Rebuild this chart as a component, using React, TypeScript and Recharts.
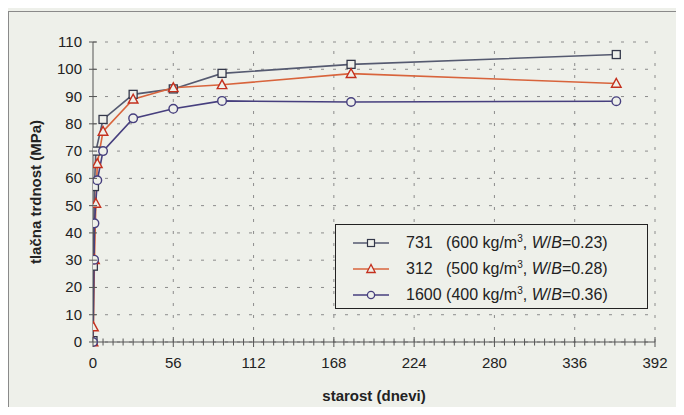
import React from 'react';
import { LineChart, Line, XAxis, YAxis, CartesianGrid, ReferenceLine, Legend } from 'recharts';

// ---- data ----
const sqDays = [0, 0.25, 1, 2, 7, 28, 56, 90, 180, 365];
const sqVals = [0.5, 27.8, 57, 70, 81.6, 90.8, 92.8, 98.5, 101.8, 105.4];

const triDays = [0, 0.3, 1, 2, 3, 7, 28, 56, 90, 180, 365];
const triVals = [0, 5.5, 30.2, 50.8, 65.4, 77.2, 89, 93.2, 94.3, 98.4, 94.8];

const cirDays = [0, 0.75, 1, 3, 7, 28, 56, 90, 180, 365];
const cirVals = [0, 30.2, 43.5, 59.3, 70, 82, 85.5, 88.4, 88, 88.3];

const xMajorTicks = [0, 56, 112, 168, 224, 280, 336, 392];
const yTicks = [0, 10, 20, 30, 40, 50, 60, 70, 80, 90, 100, 110];

const seriesNames = ['731', '312', '1600'];
const seriesDensity = ['600', '500', '400'];
const seriesWB = ['0.23', '0.28', '0.36'];

const xMinorStep = 7;
const xAllTicks: number[] = [];
for (let t = 0; t <= 392; t += xMinorStep) xAllTicks.push(t);

const toRows = (days: number[], vals: number[]) => days.map((d, i) => ({ d, v: vals[i] }));
const sqData = toRows(sqDays, sqVals);
const triData = toRows(triDays, triVals);
const cirData = toRows(cirDays, cirVals);

const BG = '#eef0ea';
const C_SQ = '#555a70';
const C_SQ_M = '#34384a';
const C_TRI = '#d8643c';
const C_TRI_M = '#c4301e';
const C_CIR = '#463f7e';
const FONT = 'Liberation Sans, Arial, sans-serif';

const SquareDot = (p: any) => {
  if (p.cx == null || p.cy == null) return <g key={p.index} />;
  return <rect key={p.index} x={p.cx - 4} y={p.cy - 4} width={8} height={8} fill={BG} stroke={C_SQ_M} strokeWidth={1.3} />;
};
const TriDot = (p: any) => {
  if (p.cx == null || p.cy == null) return <g key={p.index} />;
  const { cx, cy } = p;
  return <polygon key={p.index} points={`${cx},${cy - 5} ${cx - 4.8},${cy + 3.8} ${cx + 4.8},${cy + 3.8}`} fill={BG} stroke={C_TRI_M} strokeWidth={1.4} />;
};
const CirDot = (p: any) => {
  if (p.cx == null || p.cy == null) return <g key={p.index} />;
  return <circle key={p.index} cx={p.cx} cy={p.cy} r={4.3} fill={BG} stroke={C_CIR} strokeWidth={1.4} />;
};

const XTick = (props: any) => {
  const { x, y, payload } = props;
  const v = payload.value;
  const major = v % 56 === 0;
  return (
    <g>
      <line x1={x} x2={x} y1={major ? y - 5 : y - 3.5} y2={major ? y + 5 : y + 3.5} stroke="#555" strokeWidth={1} />
      {major && (
        <text x={x} y={y + 26} textAnchor="middle" fontSize={15} fill="#222" fontFamily={FONT}>{v}</text>
      )}
    </g>
  );
};

const YTick = (props: any) => {
  const { x, y, payload } = props;
  return (
    <g>
      <line x1={x - 4} x2={x + 4} y1={y} y2={y} stroke="#555" strokeWidth={1} />
      <text x={x - 11} y={y + 5} textAnchor="end" fontSize={15} fill="#222" fontFamily={FONT}>{payload.value}</text>
    </g>
  );
};

const LegendMarker = ({ kind }: { kind: number }) => {
  const color = kind === 0 ? C_SQ : kind === 1 ? C_TRI : C_CIR;
  return (
    <svg width={36} height={14} style={{ display: 'block' }}>
      <line x1={0} x2={36} y1={7} y2={7} stroke={color} strokeWidth={1.5} />
      {kind === 0 && <rect x={14.5} y={3.5} width={7} height={7} fill={BG} stroke={C_SQ_M} strokeWidth={1.2} />}
      {kind === 1 && <polygon points="18,2.5 13.8,10.5 22.2,10.5" fill={BG} stroke={C_TRI_M} strokeWidth={1.3} />}
      {kind === 2 && <circle cx={18} cy={7} r={3.6} fill={BG} stroke={C_CIR} strokeWidth={1.3} />}
    </svg>
  );
};

const LegendContent = () => (
  <div style={{ width: '100%', height: '100%', boxSizing: 'border-box', border: '1.5px solid #222', background: BG, padding: '5px 0 0 17px', fontFamily: FONT, fontSize: 16, color: '#222' }}>
    {seriesNames.map((n, i) => (
      <div key={n} style={{ display: 'flex', alignItems: 'center', height: 26 }}>
        <LegendMarker kind={i} />
        <span style={{ marginLeft: 17, whiteSpace: 'pre' }}>
          {n.length < 4 ? n + '   ' : n + ' '}({seriesDensity[i]} kg/m<sup style={{ fontSize: 10 }}>3</sup>, <i>W</i>/<i>B</i>={seriesWB[i]})
        </span>
      </div>
    ))}
  </div>
);

export default function App() {
  return (
    <div style={{ margin: -8, width: 684, height: 415, background: BG, position: 'relative' }}>
      <div style={{ position: 'absolute', left: 8, top: 11, width: 670, height: 400, border: '1px solid #8a8a8a', background: BG }}>
        <LineChart width={670} height={400} margin={{ top: 30, right: 24, left: 0, bottom: 30 }}>
          <CartesianGrid horizontal vertical={false} stroke="#8c8c8c" strokeDasharray="3 9" />
          {xMajorTicks.slice(1).map((t) => (
            <ReferenceLine key={t} x={t} stroke="#8c8c8c" strokeDasharray="3 9" />
          ))}
          <XAxis
            type="number"
            dataKey="d"
            domain={[0, 392]}
            ticks={xAllTicks}
            interval={0}
            allowDataOverflow
            tickSize={0}
            tickMargin={0}
            tickLine={false}
            axisLine={{ stroke: '#555', strokeWidth: 1 }}
            tick={XTick}
            height={40}
            label={(p: any) => {
              const vb = p.viewBox || {};
              return (
                <text x={vb.x + vb.width / 2} y={vb.y + 59} textAnchor="middle" fontSize={15} fontWeight="bold" fill="#222" fontFamily={FONT}>
                  starost (dnevi)
                </text>
              );
            }}
          />
          <YAxis
            type="number"
            domain={[0, 110]}
            ticks={yTicks}
            interval={0}
            tickSize={0}
            tickMargin={0}
            tickLine={false}
            axisLine={{ stroke: '#555', strokeWidth: 1 }}
            tick={YTick}
            width={84}
            label={(p: any) => {
              const vb = p.viewBox || {};
              const cx = vb.x + 26;
              const cy = vb.y + vb.height / 2;
              return (
                <text x={cx} y={cy} transform={`rotate(-90 ${cx} ${cy})`} textAnchor="middle" dominantBaseline="central" fontSize={15} fontWeight="bold" fill="#222" fontFamily={FONT}>
                  tlačna trdnost (MPa)
                </text>
              );
            }}
          />
          <Line data={sqData} dataKey="v" type="linear" stroke={C_SQ} strokeWidth={1.6} dot={SquareDot} isAnimationActive={false} />
          <Line data={triData} dataKey="v" type="linear" stroke={C_TRI} strokeWidth={1.6} dot={TriDot} isAnimationActive={false} />
          <Line data={cirData} dataKey="v" type="linear" stroke={C_CIR} strokeWidth={1.6} dot={CirDot} isAnimationActive={false} />
          <Legend
            layout="vertical"
            align="center"
            verticalAlign="middle"
            content={LegendContent}
            wrapperStyle={{ left: 326, top: 212, width: 313, height: 85 }}
          />
        </LineChart>
      </div>
    </div>
  );
}
